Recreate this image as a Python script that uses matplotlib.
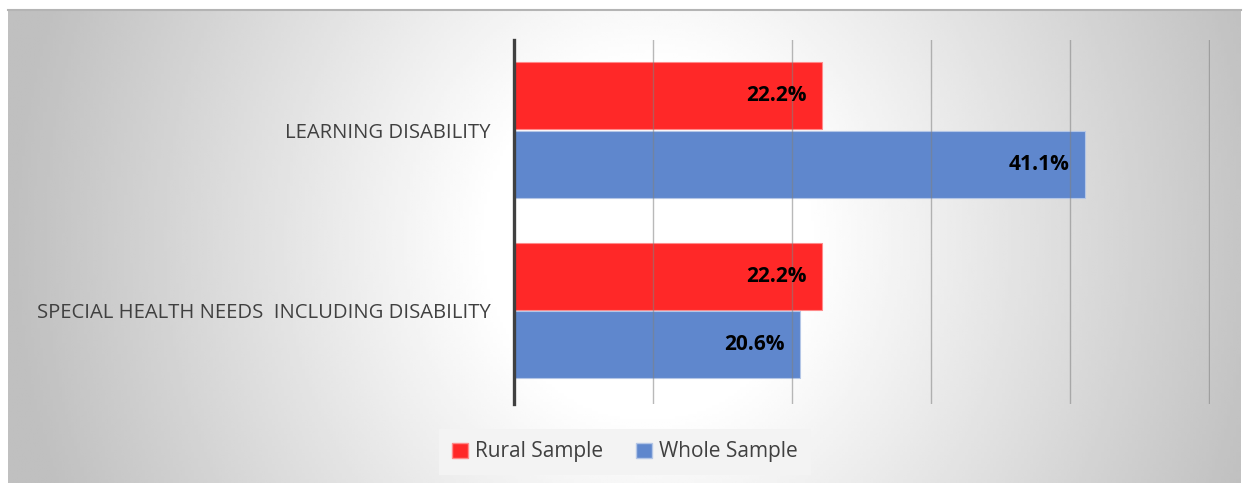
import matplotlib.pyplot as plt
import numpy as np
from matplotlib.patches import Patch

categories = ['SPECIAL HEALTH NEEDS  INCLUDING DISABILITY', 'LEARNING DISABILITY']
rural = [22.2, 22.2]
whole = [20.6, 41.1]
series_names = ['Rural Sample', 'Whole Sample']
red = '#ff2828'
blue = '#5f87cd'

plt.rcParams['font.family'] = ['Open Sans', 'DejaVu Sans']

W, H = 1243, 483
fig = plt.figure(figsize=(W / 100, H / 100), dpi=100)
fig.patch.set_facecolor('white')

# radial-ish gradient background panel
bg = fig.add_axes([8 / W, 0, 1233 / W, 473 / H], zorder=-5)
xx, yy = np.meshgrid(np.linspace(0, 1233, 400), np.linspace(0, 473, 160))
d = np.sqrt(((xx - 640) / 640) ** 2 + ((yy - 230) / 700) ** 2)
shade = 1 - 0.25 * np.clip((d - 0.25) / 0.75, 0, 1)
bg.imshow(shade, cmap='gray', vmin=0, vmax=1, aspect='auto', extent=[0, 1, 0, 1], interpolation='bilinear')
bg.set_xticks([])
bg.set_yticks([])
for s in ['left', 'right', 'bottom']:
    bg.spines[s].set_visible(False)
bg.spines['top'].set_color('#b4b4b4')
bg.spines['top'].set_linewidth(1.5)

ax = fig.add_axes([514 / W, 1 - 404 / H, (1210 - 514) / W, (404 - 40) / H])
ax.set_facecolor('none')

y = np.arange(len(categories))
h = 0.372
off = 0.19
b1 = ax.barh(y + off, rural, height=h, color=red, edgecolor='#ff8a8a', linewidth=0.8, zorder=2)
b2 = ax.barh(y - off, whole, height=h, color=blue, edgecolor='#b4c6e6', linewidth=0.8, zorder=2)

for bars, vals in [(b1, rural), (b2, whole)]:
    for bar, v in zip(bars, vals):
        ax.text(v - 1.1, bar.get_y() + bar.get_height() / 2, f'{v:.1f}%',
                ha='right', va='center', fontsize=15, fontweight='bold', color='black', zorder=4)

ax.set_xlim(0, 50.1)
ax.set_ylim(-0.52, 1.5)
ax.set_xticks([0, 10, 20, 30, 40, 50])
ax.set_xticklabels([])
ax.grid(axis='x', color='#808080', linewidth=1, alpha=0.55, zorder=3)
ax.set_axisbelow(False)
ax.set_yticks(y)
ax.set_yticklabels(categories, fontsize=14.6, color='#404040')
ax.tick_params(axis='both', length=0)
ax.tick_params(axis='y', pad=17)
for s in ['top', 'right', 'bottom']:
    ax.spines[s].set_visible(False)
ax.spines['left'].set_color('#404040')
ax.spines['left'].set_linewidth(2.4)
ax.spines['left'].set_zorder(5)

handles = [Patch(facecolor=red, edgecolor='#ff8a8a'), Patch(facecolor=blue, edgecolor='#b4c6e6')]
leg = fig.legend(handles, series_names, loc='center', bbox_to_anchor=(625 / W, 1 - 452 / H),
                 ncol=2, fontsize=15, frameon=True, fancybox=False,
                 handlelength=0.75, handleheight=0.75, handletextpad=0.35, columnspacing=1.6,
                 borderpad=0.6)
leg.get_frame().set_facecolor('#f3f3f3')
leg.get_frame().set_edgecolor('none')
leg.get_frame().set_alpha(1)
for t in leg.get_texts():
    t.set_color('#404040')

fig.savefig('out.png', dpi=100)
